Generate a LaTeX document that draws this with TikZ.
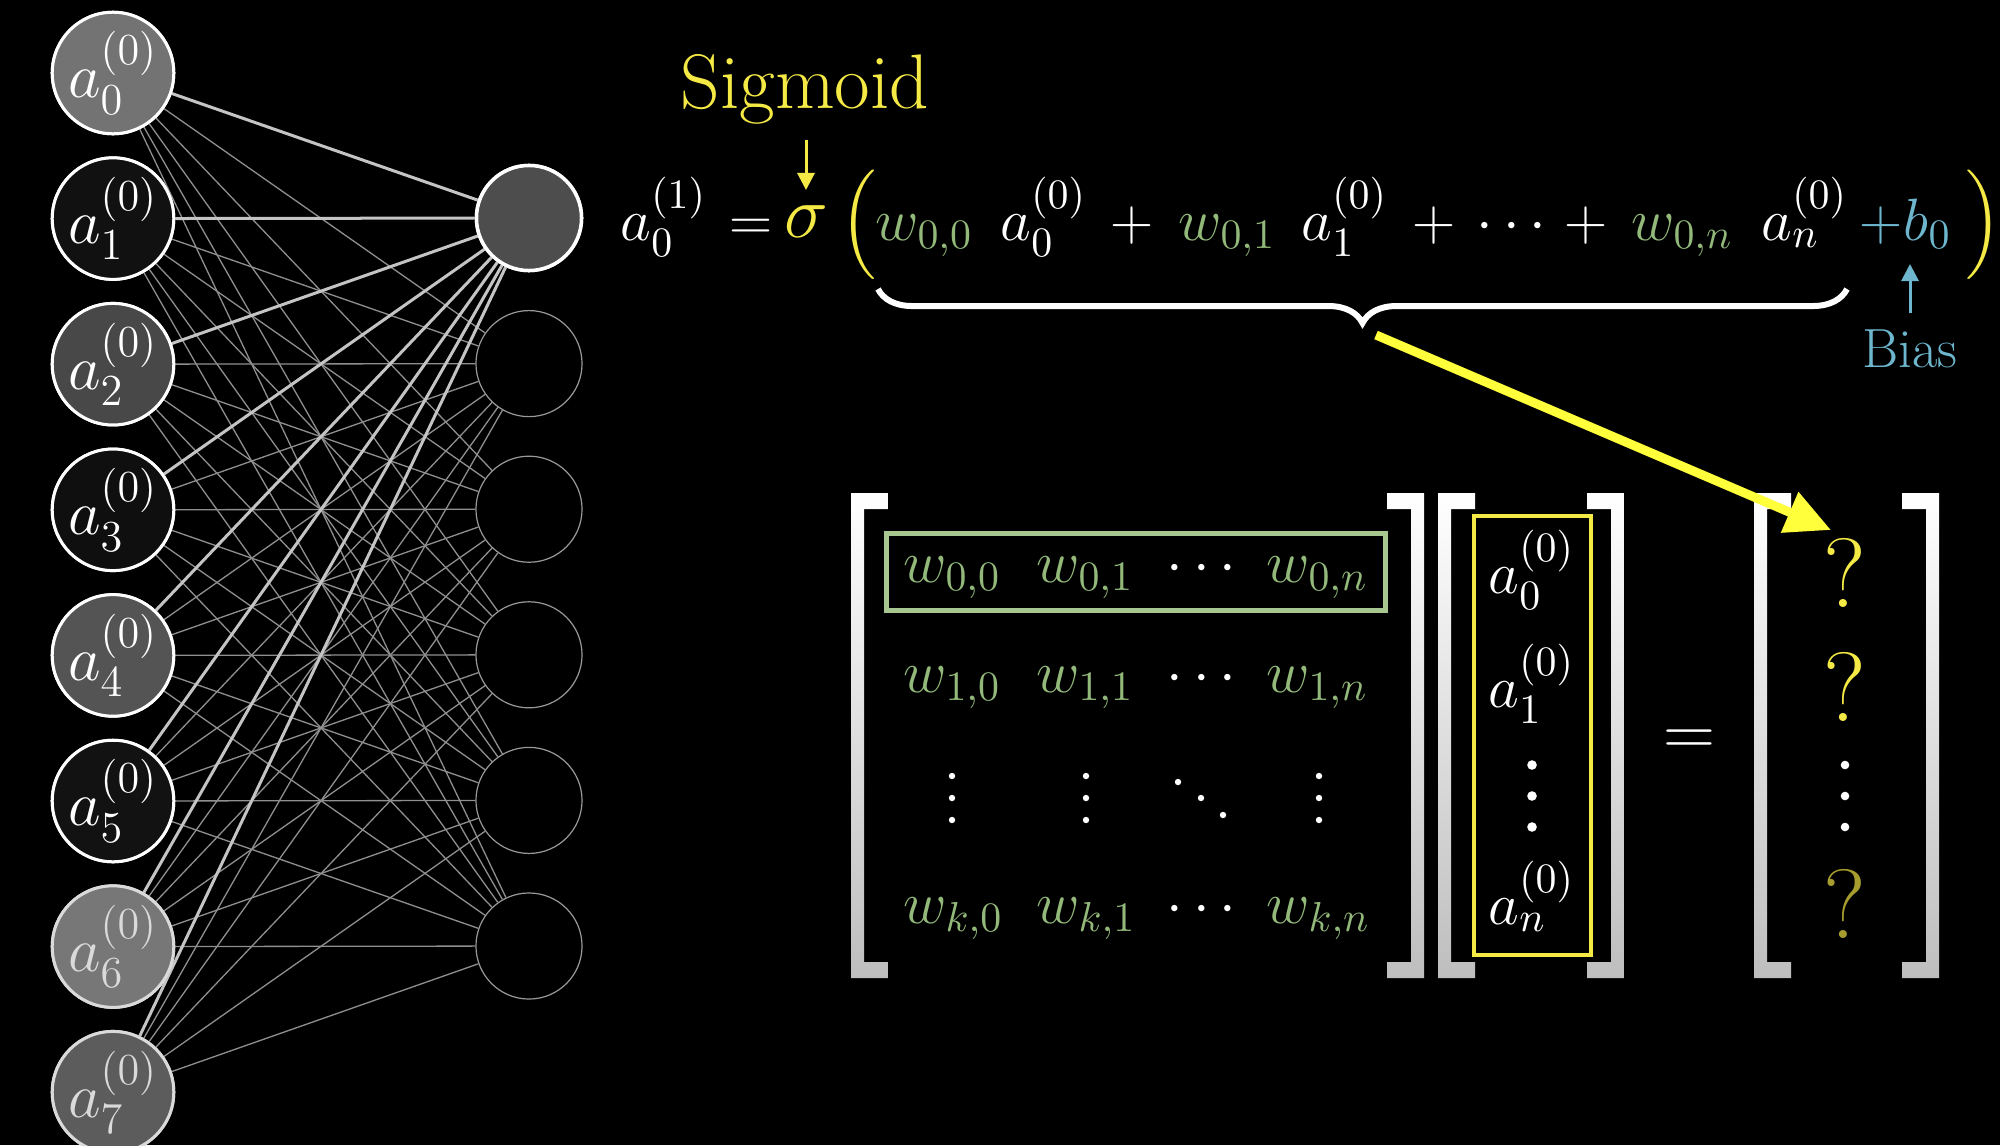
\RequirePackage{fix-cm}
\documentclass[tikz,border=0pt]{standalone}
\usepackage{amsmath}
\usetikzlibrary{arrows.meta,decorations.pathreplacing}
\definecolor{wgreen}{HTML}{92B87A}
\definecolor{boxgreen}{HTML}{A8C690}
\definecolor{ylw}{HTML}{F5EA45}
\definecolor{ylwbright}{HTML}{FFFF3C}
\definecolor{ylwdark}{HTML}{A69D2E}
\definecolor{bblue}{HTML}{6DB6CD}
\definecolor{brkgray}{HTML}{BEBEBE}
\definecolor{thinedgec}{HTML}{8F8F8F}
\definecolor{thickedgec}{HTML}{C4C4C4}
\definecolor{txtgray}{HTML}{DADADA}
\definecolor{in0}{HTML}{737373}
\definecolor{in1}{HTML}{111111}
\definecolor{in2}{HTML}{484848}
\definecolor{in3}{HTML}{0F0F0F}
\definecolor{in4}{HTML}{545454}
\definecolor{in5}{HTML}{121212}
\definecolor{in6}{HTML}{777777}
\definecolor{in7}{HTML}{5C5C5C}
\definecolor{out0}{HTML}{4D4D4D}
\newcommand\myfs{\fontsize{17}{20}\selectfont}
\newcommand\mybrL[1]{\shade[brk] (#1,493) -- ({#1+37},493) -- ({#1+37},509) -- ({#1+13},509) -- ({#1+13},962) -- ({#1+37},962) -- ({#1+37},978) -- (#1,978) -- cycle;}
\newcommand\mybrR[1]{\shade[brk] (#1,493) -- ({#1-37},493) -- ({#1-37},509) -- ({#1-13},509) -- ({#1-13},962) -- ({#1-37},962) -- ({#1-37},978) -- (#1,978) -- cycle;}
\begin{document}
\begin{tikzpicture}[x=0.01cm,y=-0.01cm,
  innode/.style={circle,draw=white,line width=0.03cm,minimum size=1.06cm,inner sep=0pt,font=\fontsize{18}{21}\selectfont},
  outnode/.style={circle,draw=gray!80,line width=0.012cm,minimum size=1.06cm,inner sep=0pt},
  firstout/.style={circle,draw=white,fill=out0,line width=0.035cm,minimum size=1.05cm,inner sep=0pt},
  thinedge/.style={draw=thinedgec,line width=0.013cm},
  thickedge/.style={draw=thickedgec,line width=0.03cm},
  fm/.style={anchor=base west,inner sep=0pt,font=\myfs,text=white},
  ment/.style={anchor=base west,inner sep=0pt,font=\myfs,text=wgreen},
  brk/.style={top color=white,bottom color=brkgray},
  bigarrow/.style={draw=ylwbright,line width=0.09cm,-{Triangle[length=0.45cm,width=0.42cm]}},
  smallarrow/.style={line width=0.03cm,-{Triangle[length=0.17cm,width=0.17cm]}},
  dotw/.style={fill=white}
]
\fill[black] (0,0) rectangle (2000,1145);
\useasboundingbox (0,0) rectangle (2000,1145);

% ---------- network ----------
\foreach \i/\tc/\bc in {0/white/white,1/white/white,2/white/white,3/white/white,4/white/white,5/white/white,6/txtgray/txtgray,7/txtgray/txtgray}{
  \node[innode,fill=in\i,draw=\bc,text=\tc] (i\i) at (113,{73+145.6*\i}) {$a_{\i}^{(0)}$};
}
\node[firstout] (o0) at (529,218) {};
\foreach \j in {1,...,5}{
  \node[outnode] (o\j) at (529,{218+145.6*\j}) {};
}
\foreach \i in {0,...,7}{
  \foreach \j in {1,...,5}{
    \draw[thinedge] (i\i) -- (o\j);
  }
}
\foreach \i in {0,...,7}{
  \draw[thickedge] (i\i) -- (o0);
}
% redraw nodes on top
\foreach \i/\tc/\bc in {0/white/white,1/white/white,2/white/white,3/white/white,4/white/white,5/white/white,6/txtgray/txtgray,7/txtgray/txtgray}{
  \node[innode,fill=in\i,draw=\bc,text=\tc] at (i\i) {$a_{\i}^{(0)}$};
}
\node[firstout] at (o0) {};

% ---------- formula ----------
\node[anchor=base,inner sep=0pt,font=\fontsize{22}{26}\selectfont,text=ylw] (sigl) at (805,108) {Sigmoid};
\node[fm] (f1) at (620,240) {$a_0^{(1)}$};
\node[fm] (feq) at (729,240) {$=$};
\node[fm,font=\fontsize{21}{24}\selectfont,text=ylw] (fsig) at (784,237) {$\sigma$};
\node[fm,text=ylw] (flp) at (840,240) {$\Big($};
\node[fm,text=wgreen] (fw0) at (875,240) {$w_{0,0}$};
\node[fm] (fa0) at (1000,240) {$a_0^{(0)}$};
\node[fm] (fp1) at (1110,240) {$+$};
\node[fm,text=wgreen] (fw1) at (1178,240) {$w_{0,1}$};
\node[fm] (fa1) at (1301,240) {$a_1^{(0)}$};
\node[fm] (fp2) at (1412,240) {$+$};
\node[fm] (fdots) at (1476,240) {$\cdots$};
\node[fm] (fp3) at (1564,240) {$+$};
\node[fm,text=wgreen] (fwn) at (1631,240) {$w_{0,n}$};
\node[fm] (fan) at (1761,240) {$a_n^{(0)}$};
\node[fm,text=bblue] (fp4) at (1859,240) {$+$};
\node[fm,text=bblue] (fb) at (1903,240) {$b_0$};
\node[fm,text=ylw] (frp) at (1965,240) {$\Big)$};

\coordinate (sigA) at (806,140);
\coordinate (sigB) at (806,190);
\draw[smallarrow,draw=ylw,fill=ylw] (sigA) -- (sigB);

\node[anchor=base,inner sep=0pt,font=\fontsize{15.7}{19}\selectfont,text=bblue] (biasl) at (1910,367) {Bias};
\coordinate (biasA) at (1910,313);
\coordinate (biasB) at (1910,264);
\draw[smallarrow,draw=bblue,fill=bblue] (biasA) -- (biasB);

% brace
\coordinate (brR) at (1847,289);
\coordinate (brLft) at (878,289);
\draw[white,line width=0.06cm,decorate,decoration={brace,amplitude=0.34cm}] (brR) -- (brLft);

% ---------- matrix ----------
\mybrL{851}
\mybrR{1424}
\mybrL{1438}
\mybrR{1624}
\mybrL{1754}
\mybrR{1939}

\draw[boxgreen,line width=0.05cm] (886,533) rectangle (1385,610);
\draw[ylw,line width=0.045cm] (1474,516) rectangle (1591,955);

\foreach \r/\y in {0/582,1/692,k/923}{
  \node[ment] (m\r0) at (903,\y) {$w_{\r,0}$};
  \node[ment] (m\r1) at (1036,\y) {$w_{\r,1}$};
  \node[ment,text=white] (m\r d) at (1166,\y) {$\cdots$};
  \node[ment] (m\r n) at (1266,\y) {$w_{\r,n}$};
}
\foreach \x in {952,1086,1319}{
  \foreach \y in {776,798,820}{
    \fill[dotw] (\x,\y) circle (3.2);
  }
}
\fill[dotw] (1178,782) circle (3.2);
\fill[dotw] (1201,798) circle (3.2);
\fill[dotw] (1223,815) circle (3.2);

% vector
\node[fm] (v0) at (1488,593) {$a_0^{(0)}$};
\node[fm] (v1) at (1488,707) {$a_1^{(0)}$};
\node[fm] (vn) at (1488,924) {$a_n^{(0)}$};
\foreach \y in {765,796,827}{
  \fill[dotw] (1532,\y) circle (4.8);
}

% equals
\node[anchor=base,inner sep=0pt,font=\fontsize{20.5}{24}\selectfont,text=white] (eq) at (1689,755) {$=$};

% result
\node[anchor=base,inner sep=0pt,font=\fontsize{28}{32}\selectfont,text=ylw] (q0) at (1845,607) {?};
\node[anchor=base,inner sep=0pt,font=\fontsize{28}{32}\selectfont,text=ylw] (q1) at (1845,721) {?};
\node[anchor=base,inner sep=0pt,font=\fontsize{28}{32}\selectfont,text=ylwdark] (qk) at (1845,938) {?};
\foreach \y in {765,796,827}{
  \fill[dotw] (1845,\y) circle (4.3);
}

% big arrow
\coordinate (arrA) at (1376,335);
\coordinate (arrB) at (1831,530);
\draw[bigarrow,fill=ylwbright] (arrA) -- (arrB);
\end{tikzpicture}
\end{document}
